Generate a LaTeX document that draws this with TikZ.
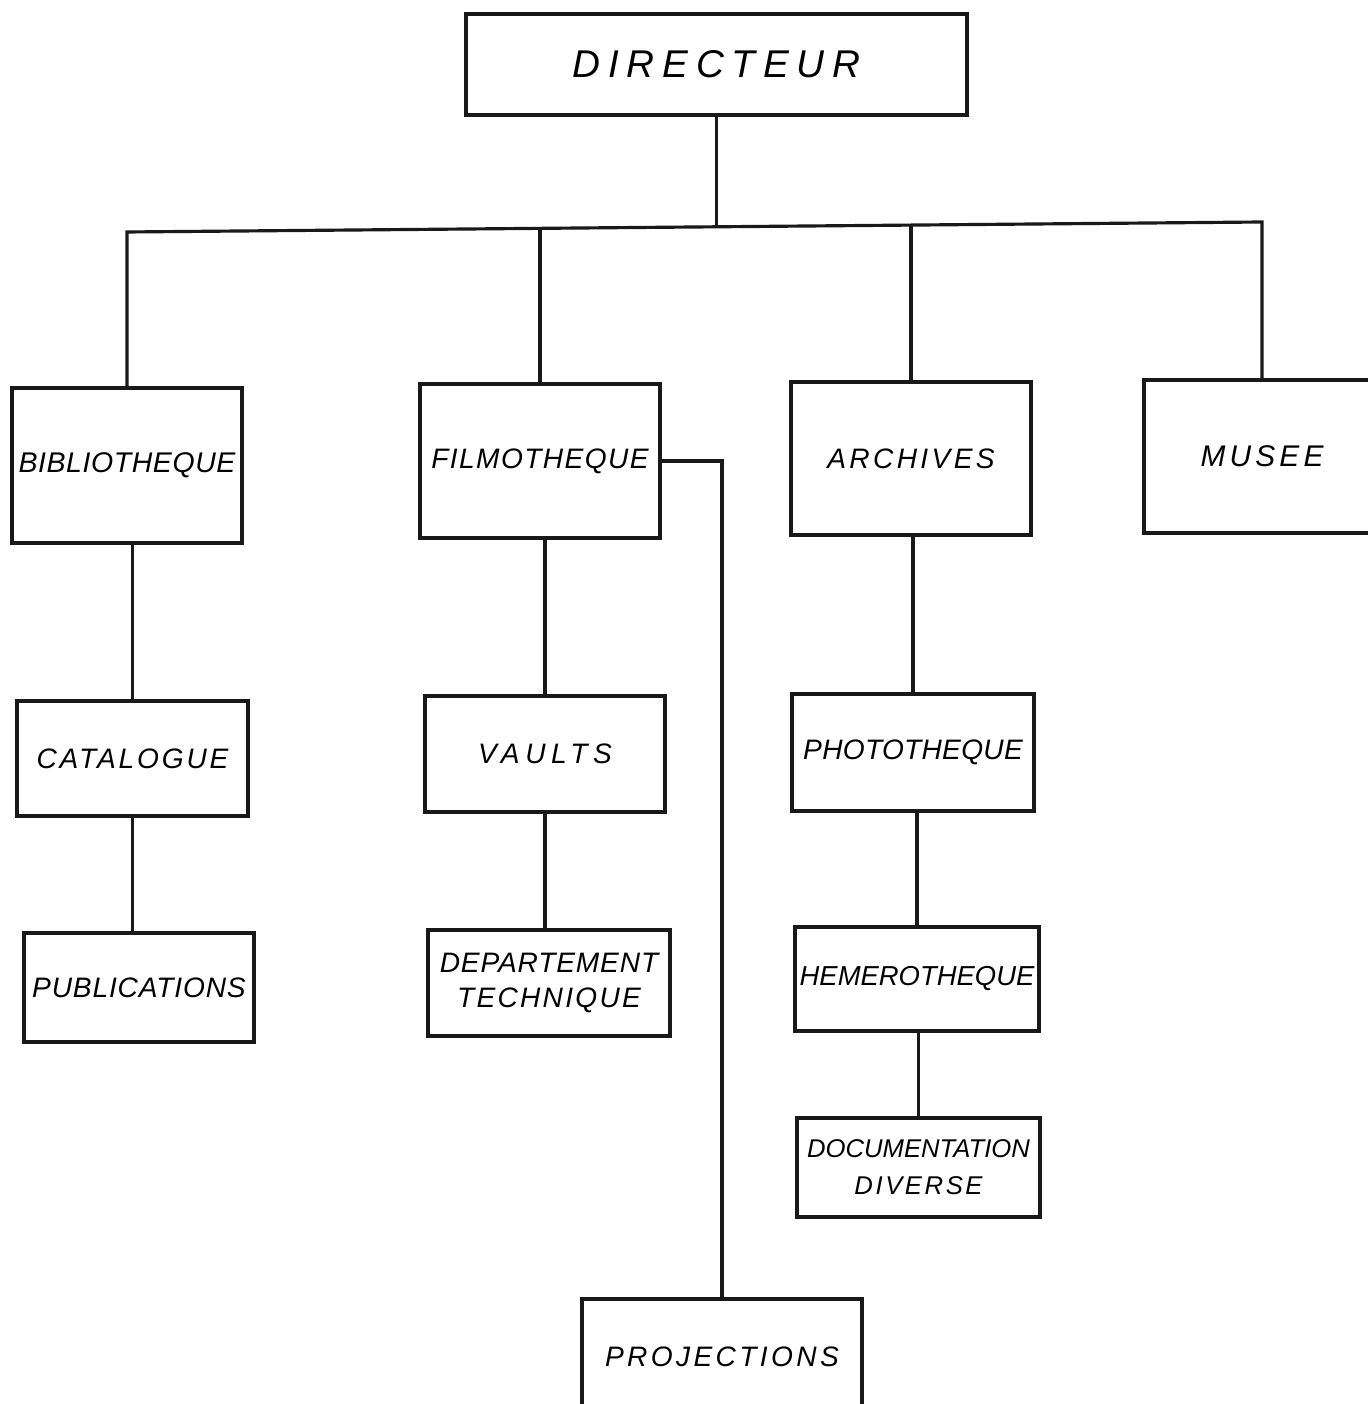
\documentclass[tikz,border=0pt]{standalone}
\usepackage{fontspec}
\setmainfont{Liberation Sans}
\newcommand\lb[3]{{\fontsize{#1}{#1}\selectfont\itshape\addfontfeatures{LetterSpace=#2}#3}}
\begin{document}
\begin{tikzpicture}[x=0.01cm,y=-0.01cm,
  box/.style={draw=black!90, line width=1.1pt, inner sep=0pt, align=center, fill=none},
  conn/.style={draw=black!90, line width=0.9pt}]
\useasboundingbox[fill=white] (0,0) rectangle (1368,1404);
% top level
\node[box, minimum width=5.01cm, minimum height=1.01cm] (dir) at (716.5,64.5) {\lb{11}{20}{DIRECTEUR}};
% second level
\node[box, minimum width=2.30cm, minimum height=1.55cm] (bib) at (127,465.5) {\lb{8.1}{2}{BIBLIOTHEQUE}};
\node[box, minimum width=2.40cm, minimum height=1.54cm] (fil) at (540,461) {\lb{8}{5}{FILMOTHEQUE}};
\node[box, minimum width=2.40cm, minimum height=1.53cm] (arc) at (911,458.5) {\lb{8}{12}{ARCHIVES}};
\node[box, minimum width=2.36cm, minimum height=1.53cm] (mus) at (1262,456.5) {\lb{8.5}{14}{MUSEE}};
% third level
\node[box, minimum width=2.31cm, minimum height=1.15cm] (cat) at (132.5,758.5) {\lb{8}{10}{CATALOGUE}};
\node[box, minimum width=2.40cm, minimum height=1.16cm] (vau) at (545,754) {\lb{8}{20}{VAULTS}};
\node[box, minimum width=2.42cm, minimum height=1.17cm] (pho) at (913,752.5) {\lb{8}{1}{PHOTOTHEQUE}};
% fourth level
\node[box, minimum width=2.30cm, minimum height=1.09cm] (pub) at (139,987.5) {\lb{8}{3}{PUBLICATIONS}};
\node[box, minimum width=2.42cm, minimum height=1.06cm] (dep) at (549,983) {\lb{8}{3}{DEPARTEMENT}\\[-2pt]\lb{8}{8}{TECHNIQUE}};
\node[box, minimum width=2.44cm, minimum height=1.04cm] (hem) at (917,979) {\lb{7.8}{0}{HEMEROTHEQUE}};
% fifth level
\node[box, minimum width=2.43cm, minimum height=0.99cm] (doc) at (918.5,1167.5) {\lb{7.3}{0}{DOCUMENTATION}\\[-1.5pt]\lb{7.3}{10}{DIVERSE}};
\node[box, minimum width=2.80cm, minimum height=1.16cm] (pro) at (722,1357) {\lb{8}{12}{PROJECTIONS}};
% bar
\coordinate (barL) at (124,232);
\coordinate (barR) at (1263,222);
\coordinate (barF) at (539,229);
\coordinate (barD) at (713,226);
\coordinate (barA) at (911,225);
\draw[conn] (bib.north) -- (bib.north |- barL) -- (mus.north |- barR) -- (mus.north);
\draw[conn] (dir.south) -- (dir.south |- barD);
\draw[conn] (fil.north) -- (fil.north |- barF);
\draw[conn] (arc.north) -- (arc.north |- barA);
% chains
\draw[conn] (cat.north) -- (cat.north |- bib.south);
\draw[conn] (cat.south) -- (cat.south |- pub.north);
\draw[conn] (vau.north) -- (vau.north |- fil.south);
\draw[conn] (vau.south) -- (vau.south |- dep.north);
\draw[conn] (pho.north) -- (pho.north |- arc.south);
\draw[conn] (hem.north) -- (hem.north |- pho.south);
\draw[conn] (doc.north) -- (doc.north |- hem.south);
% filmotheque to projections
\draw[conn] (fil.east) -| (pro.north);
\end{tikzpicture}
\end{document}
